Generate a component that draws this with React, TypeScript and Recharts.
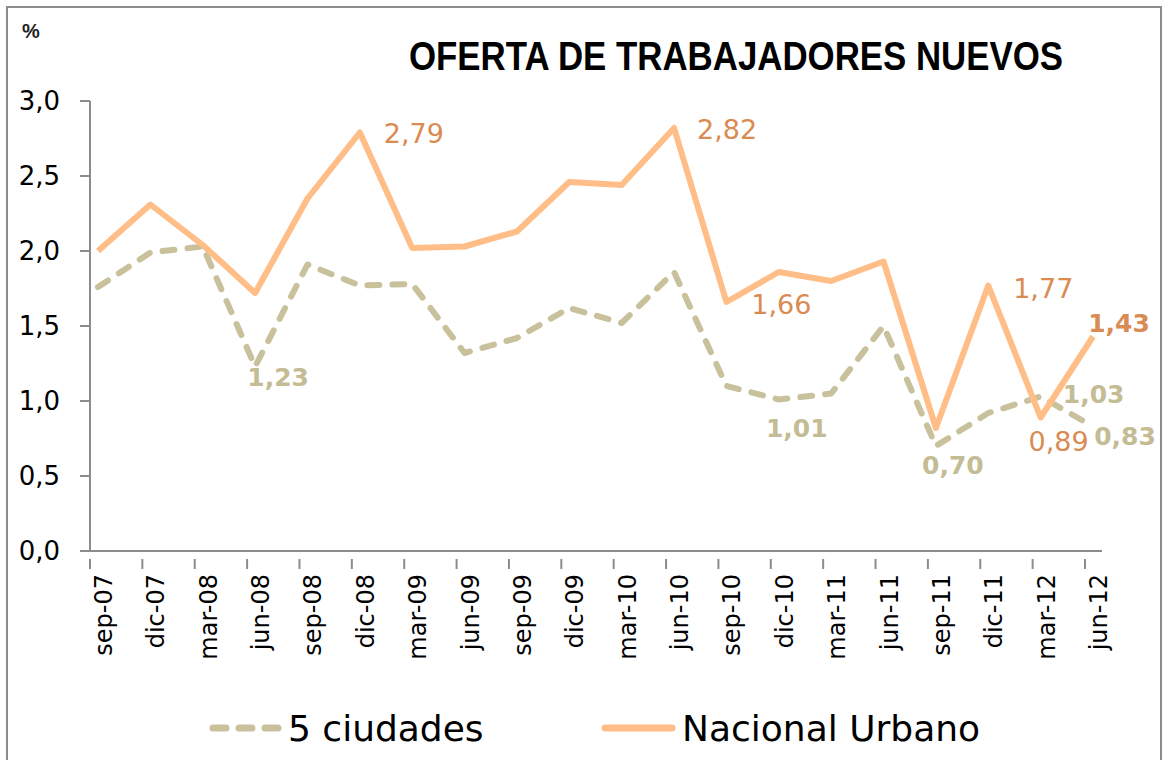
import React from 'react'
import { LineChart, Line, XAxis, YAxis, LabelList } from 'recharts'

// trimestres
const categories = [
  'sep-07', 'dic-07', 'mar-08', 'jun-08', 'sep-08', 'dic-08', 'mar-09', 'jun-09', 'sep-09', 'dic-09',
  'mar-10', 'jun-10', 'sep-10', 'dic-10', 'mar-11', 'jun-11', 'sep-11', 'dic-11', 'mar-12', 'jun-12',
]
const cincoCiudades = [
  1.76, 1.99, 2.03, 1.23, 1.91, 1.77, 1.78, 1.32, 1.42, 1.62,
  1.52, 1.86, 1.10, 1.01, 1.05, 1.50, 0.70, 0.92, 1.03, 0.83,
]
const nacionalUrbano = [
  2.00, 2.31, 2.04, 1.72, 2.35, 2.79, 2.02, 2.03, 2.13, 2.46,
  2.44, 2.82, 1.66, 1.86, 1.80, 1.93, 0.82, 1.77, 0.89, 1.43,
]
const yTicks = [0, 0.5, 1, 1.5, 2, 2.5, 3]
const seriesNames = ['5 ciudades', 'Nacional Urbano']
const title = 'OFERTA DE TRABAJADORES NUEVOS'

const OLIVE = '#c8c19c'
const OLIVE_TEXT = '#c4bc95'
const ORANGE = '#ffbd87'
const ORANGE_TEXT = '#d98b52'
const AXIS = '#8c8c8c'
const FONT = '"DejaVu Sans", sans-serif'

// which points carry a value label, and where the label sits (dx, dy from the point)
const nuLabelPos: Record<number, [number, number]> = {
  5: [54, 1], 11: [53, 1], 12: [55, 2], 17: [55, 3], 18: [18, 24], 19: [26, -13],
}
const ccLabelPos: Record<number, [number, number]> = {
  3: [23, 11], 13: [18, 29], 16: [17, 19], 18: [53, -2], 19: [32, 10],
}

const data = categories.map((c, i) => ({ cat: c, cc: cincoCiudades[i], nu: nacionalUrbano[i] }))

const fmt = (v: number, d: number) => v.toFixed(d).replace('.', ',')

const makeLabel = (pos: Record<number, [number, number]>, color: string, boldIdx: number[], size: number, weight: number) =>
  (props: any) => {
    const { index, value } = props
    const p = pos[index]
    if (!p) return null
    const x = props.x ?? props.viewBox?.x
    const y = props.y ?? props.viewBox?.y
    const bold = boldIdx.includes(index)
    return (
      <text
        x={x + p[0]}
        y={y + p[1]}
        textAnchor="middle"
        dominantBaseline="central"
        fill={color}
        fontFamily={FONT}
        fontSize={bold ? 25 : size}
        fontWeight={bold ? 700 : weight}
      >
        {fmt(value, 2)}
      </text>
    )
  }

const XTick = (props: any) => {
  const { x, y, payload } = props
  const tx = x - 8
  return (
    <g>
      <line x1={tx} x2={tx} y1={y} y2={y + 10} stroke={AXIS} strokeWidth={2} />
      <text
        x={x + 14}
        y={574}
        transform={`rotate(-90, ${x + 14}, 574)`}
        textAnchor="end"
        fontFamily={FONT}
        fontSize={24}
        fill="#000"
      >
        {payload.value}
      </text>
    </g>
  )
}

const YTick = (props: any) => {
  const { y, payload } = props
  return (
    <text x={60} y={y} textAnchor="end" dominantBaseline="central" fontFamily={FONT} fontSize={26} fill="#000">
      {fmt(payload.value, 1)}
    </text>
  )
}

export default function App() {
  return (
    <>
      <style>{'html, body { margin: 0; padding: 0; overflow: hidden; background: #fff; }'}</style>
      <div style={{ position: 'relative', width: 1164, height: 760, background: '#fff', overflow: 'hidden' }}>
        <svg style={{ position: 'absolute', left: 0, top: 0 }} width={1164} height={100}>
          <text x={22} y={38} fontFamily='"Liberation Sans", Arial, sans-serif' fontWeight={700} fontSize={20} fill="#222">%</text>
          <text
            x={409}
            y={70}
            fontFamily='"Liberation Sans", Arial, sans-serif'
            fontWeight={700}
            fontSize={40}
            textLength={654}
            lengthAdjust="spacingAndGlyphs"
            fill="#000"
          >
            {title}
          </text>
        </svg>
        <div style={{ position: 'absolute', left: 0, top: 0 }}>
          <LineChart width={1164} height={760} data={data} margin={{ top: 101, right: 62, bottom: 59, left: 30 }}>
            <XAxis
              dataKey="cat"
              height={150}
              padding={{ left: 8, right: 9 }}
              axisLine={{ stroke: AXIS, strokeWidth: 2 }}
              tickLine={false}
              tick={<XTick />}
              interval={0}
            />
            <YAxis
              width={60}
              domain={[0, 3]}
              ticks={yTicks}
              axisLine={{ stroke: AXIS, strokeWidth: 2 }}
              tickLine={{ stroke: AXIS, strokeWidth: 2 }}
              tickSize={10}
              tick={<YTick />}
            />
            <Line
              dataKey="cc"
              name={seriesNames[0]}
              stroke={OLIVE}
              strokeWidth={6}
              strokeDasharray="12 13"
              strokeLinecap="round"
              strokeLinejoin="round"
              dot={false}
              activeDot={false}
              isAnimationActive={false}
            >
              <LabelList dataKey="cc" content={makeLabel(ccLabelPos, OLIVE_TEXT, [], 25, 700)} />
            </Line>
            <Line
              dataKey="nu"
              name={seriesNames[1]}
              stroke={ORANGE}
              strokeWidth={6}
              strokeLinejoin="round"
              dot={false}
              activeDot={false}
              isAnimationActive={false}
            >
              <LabelList dataKey="nu" content={makeLabel(nuLabelPos, ORANGE_TEXT, [19], 27, 400)} />
            </Line>
          </LineChart>
        </div>
        <svg style={{ position: 'absolute', left: 0, top: 700 }} width={1164} height={60}>
          <line x1={213} x2={280} y1={28} y2={28} stroke={OLIVE} strokeWidth={7} strokeDasharray="13 13" strokeLinecap="round" />
          <text x={288} y={28} dominantBaseline="central" fontFamily={FONT} fontSize={36} fill="#000">{seriesNames[0]}</text>
          <line x1={605} x2={672} y1={28} y2={28} stroke={ORANGE} strokeWidth={7} strokeLinecap="round" />
          <text x={682} y={28} dominantBaseline="central" fontFamily={FONT} fontSize={36} fill="#000">{seriesNames[1]}</text>
        </svg>
        {/* marco exterior */}
        <div
          style={{
            position: 'absolute',
            left: 6,
            top: 6,
            width: 1156,
            height: 800,
            border: '2px solid #8c8c8c',
            boxSizing: 'border-box',
            pointerEvents: 'none',
          }}
        />
      </div>
    </>
  )
}
